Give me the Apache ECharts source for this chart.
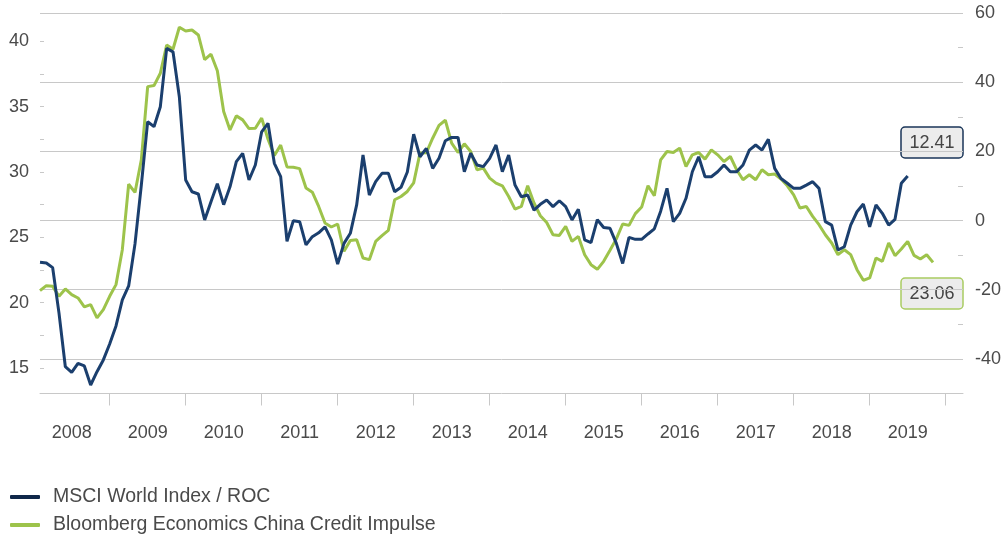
<!DOCTYPE html>
<html>
<head>
<meta charset="utf-8">
<title>MSCI World Index / China Credit Impulse</title>
<script src="https://cdn.jsdelivr.net/npm/echarts@6.0.0/dist/echarts.min.js"></script>
<style>
  html, body { margin: 0; padding: 0; background: #fff; }
  #chart { width: 1004px; height: 540px; }
</style>
</head>
<body>
<div id="chart"></div>
<script>
// monthly values, first point = end of Jan 2008
var msci = [
  23.09, 23.04, 22.68, 19.2, 15.1, 14.67, 15.36, 15.16, 13.7, 14.72, 15.62, 16.84,
  18.22, 20.21, 21.28, 24.5, 29.0, 33.85, 33.47, 35.0, 39.46, 39.2, 35.76, 29.39,
  28.49, 28.32, 26.33, 27.73, 29.1, 27.5, 28.87, 30.79, 31.43, 29.39, 30.54, 33.08,
  33.73, 30.67, 29.64, 24.7, 26.27, 26.2, 24.42, 25.05, 25.35, 25.8, 24.8, 22.96,
  24.54, 25.31, 27.48, 31.3, 28.24, 29.26, 29.9, 29.9, 28.49, 28.83, 30.0, 32.9,
  31.17, 31.81, 30.28, 31.05, 32.39, 32.65, 32.65, 30.02, 31.43, 30.54, 30.41, 31.05,
  32.07, 30.02, 31.3, 29.0, 28.11, 28.24, 27.09, 27.53, 27.86, 27.35, 27.8, 27.35,
  26.33, 27.15, 24.8, 24.6, 26.35, 25.75, 25.69, 24.54, 23.0, 25.0, 24.85, 24.85,
  25.26, 25.65, 27.0, 28.75, 26.2, 26.84, 27.99, 30.02, 31.17, 29.64, 29.64, 30.02,
  30.54, 30.02, 30.02, 30.54, 31.68, 32.07, 31.68, 32.5, 30.28, 29.5, 29.14, 28.75,
  28.75, 29.0, 29.26, 28.75, 26.2, 25.94, 24.03, 24.28, 25.94, 26.96, 27.55, 25.81,
  27.48, 26.84, 25.94, 26.38, 29.14, 29.7
];
var impulse = [
  -20.26, -18.82, -19.02, -21.9, -19.77, -21.42, -22.38, -24.97, -24.3, -28.15, -25.75, -21.9,
  -18.53, -8.43, 10.5, 8.12, 17.56, 38.72, 39.01, 42.59, 50.76, 49.52, 55.87, 54.8,
  55.1, 53.65, 46.5, 48.1, 43.3, 31.5, 26.2, 30.26, 29.1, 26.6, 26.7, 29.6,
  23.5, 18.8, 21.8, 15.5, 15.4, 15.0, 9.4, 8.2, 4.07, -0.72, -1.87, -1.0,
  -8.9, -5.74, -5.54, -10.83, -11.31, -6.03, -4.38, -2.85, 6.01, 6.96, 8.41, 10.9,
  19.5, 19.6, 23.8, 27.5, 29.0, 22.38, 19.67, 22.18, 19.96, 14.67, 15.16, 12.27,
  10.83, 10.05, 6.96, 3.32, 4.07, 10.05, 5.06, 1.39, -0.55, -4.1, -4.3, -1.7,
  -6.03, -4.59, -9.9, -12.76, -14.1, -11.8, -8.6, -5.3, -1.0, -1.4, 2.0, 3.9,
  10.05, 7.16, 17.56, 19.96, 19.67, 20.94, 15.62, 19.0, 19.67, 17.76, 20.45, 19.0,
  17.07, 18.51, 14.67, 11.78, 13.23, 11.78, 14.67, 13.23, 13.43, 12.0, 10.05, 7.45,
  3.61, 4.07, 1.19, -1.2, -4.1, -6.49, -9.87, -8.43, -9.87, -14.2, -17.29, -16.6,
  -10.82, -11.8, -6.49, -10.16, -8.23, -6.03, -10.07, -11.11, -9.87, -12.1
];
var years = [2008, 2009, 2010, 2011, 2012, 2013, 2014, 2015, 2016, 2017, 2018, 2019];
var leftLabels = [15, 20, 25, 30, 35, 40];
var leftTicks = [15, 17.5, 20, 22.5, 25, 27.5, 30, 32.5, 35, 37.5, 40];
var lastMsci = '12.41';
var lastImpulse = '23.06';

var names = ['MSCI World Index / ROC', 'Bloomberg Economics China Credit Impulse'];
var blue = '#1b3f6e', green = '#9dc34b';
var font = 'Liberation Sans';
var textColor = '#4a4a4a';
var lineGrey = '#c8c8c8';

// month-end positions in decimal years
function pairs(vals) {
  return vals.map(function (v, i) { return [2008 + (i + 1) / 12, v]; });
}

var chart = echarts.init(document.getElementById('chart'));
chart.setOption({
  animation: false,
  backgroundColor: '#fff',
  textStyle: { fontFamily: font },
  grid: { left: 40, right: 41, top: 13, bottom: 146.5, outerBoundsMode: 'none' },
  legend: {
    orient: 'vertical',
    left: 10,
    top: 486,
    padding: 0,
    height: 60,
    icon: 'roundRect',
    itemWidth: 30,
    itemHeight: 4,
    itemGap: 6,
    textStyle: { fontSize: 19.5, lineHeight: 22, color: textColor, padding: [0, 0, 0, 8], fontFamily: font },
    data: [
      { name: names[0], itemStyle: { color: '#10284a' } },
      { name: names[1], itemStyle: { color: green } }
    ]
  },
  xAxis: {
    type: 'value',
    min: 2008 + 1 / 12,
    max: 2020.228,
    axisLine: { onZero: false, lineStyle: { color: lineGrey, width: 1 } },
    axisTick: {
      customValues: years.map(function (y) { return y + 1; }),
      length: 12,
      lineStyle: { color: lineGrey }
    },
    axisLabel: {
      customValues: years.map(function (y) { return y + 0.5; }),
      formatter: function (v) { return String(Math.floor(v)); },
      margin: 31,
      fontSize: 18,
      color: textColor
    },
    splitLine: { show: false }
  },
  yAxis: [
    {
      type: 'value',
      position: 'left',
      min: 13.05,
      max: 42.17,
      axisLine: { show: false },
      axisTick: { show: true, inside: true, length: 4, customValues: leftTicks, lineStyle: { color: lineGrey } },
      axisLabel: { customValues: leftLabels, margin: 11, fontSize: 18, color: textColor },
      splitLine: { show: false }
    },
    {
      type: 'value',
      position: 'right',
      min: -50,
      max: 60,
      interval: 10,
      axisLine: { show: false },
      axisTick: { show: true, inside: true, length: 5, lineStyle: { color: lineGrey } },
      axisLabel: {
        margin: 12,
        fontSize: 18,
        color: textColor,
        formatter: function (v) { return v % 20 === 0 ? String(v) : ''; }
      },
      splitLine: { show: true, lineStyle: { color: ['transparent', lineGrey], width: 1 } }
    }
  ],
  series: [
    {
      name: names[1],
      type: 'line',
      yAxisIndex: 1,
      data: pairs(impulse),
      symbol: 'none',
      lineStyle: { color: green, width: 3 },
      itemStyle: { color: green }
    },
    {
      name: names[0],
      type: 'line',
      yAxisIndex: 0,
      data: pairs(msci),
      symbol: 'none',
      lineStyle: { color: blue, width: 3 },
      itemStyle: { color: blue }
    }
  ],
  graphic: [
    {
      type: 'rect',
      shape: { x: 901, y: 127, width: 62, height: 31, r: 4 },
      style: { fill: '#ececec', stroke: '#1a3558', lineWidth: 1.5 }
    },
    {
      type: 'text',
      x: 932, y: 143,
      style: { text: lastMsci, textAlign: 'center', textVerticalAlign: 'middle', font: '18px ' + font, fill: '#444' }
    },
    {
      type: 'rect',
      shape: { x: 901, y: 278, width: 62, height: 31, r: 4 },
      style: { fill: '#ececec', stroke: '#a9cb62', lineWidth: 1.5 }
    },
    {
      type: 'text',
      x: 932, y: 294,
      style: { text: lastImpulse, textAlign: 'center', textVerticalAlign: 'middle', font: '18px ' + font, fill: '#444' }
    }
  ]
});
</script>
</body>
</html>
